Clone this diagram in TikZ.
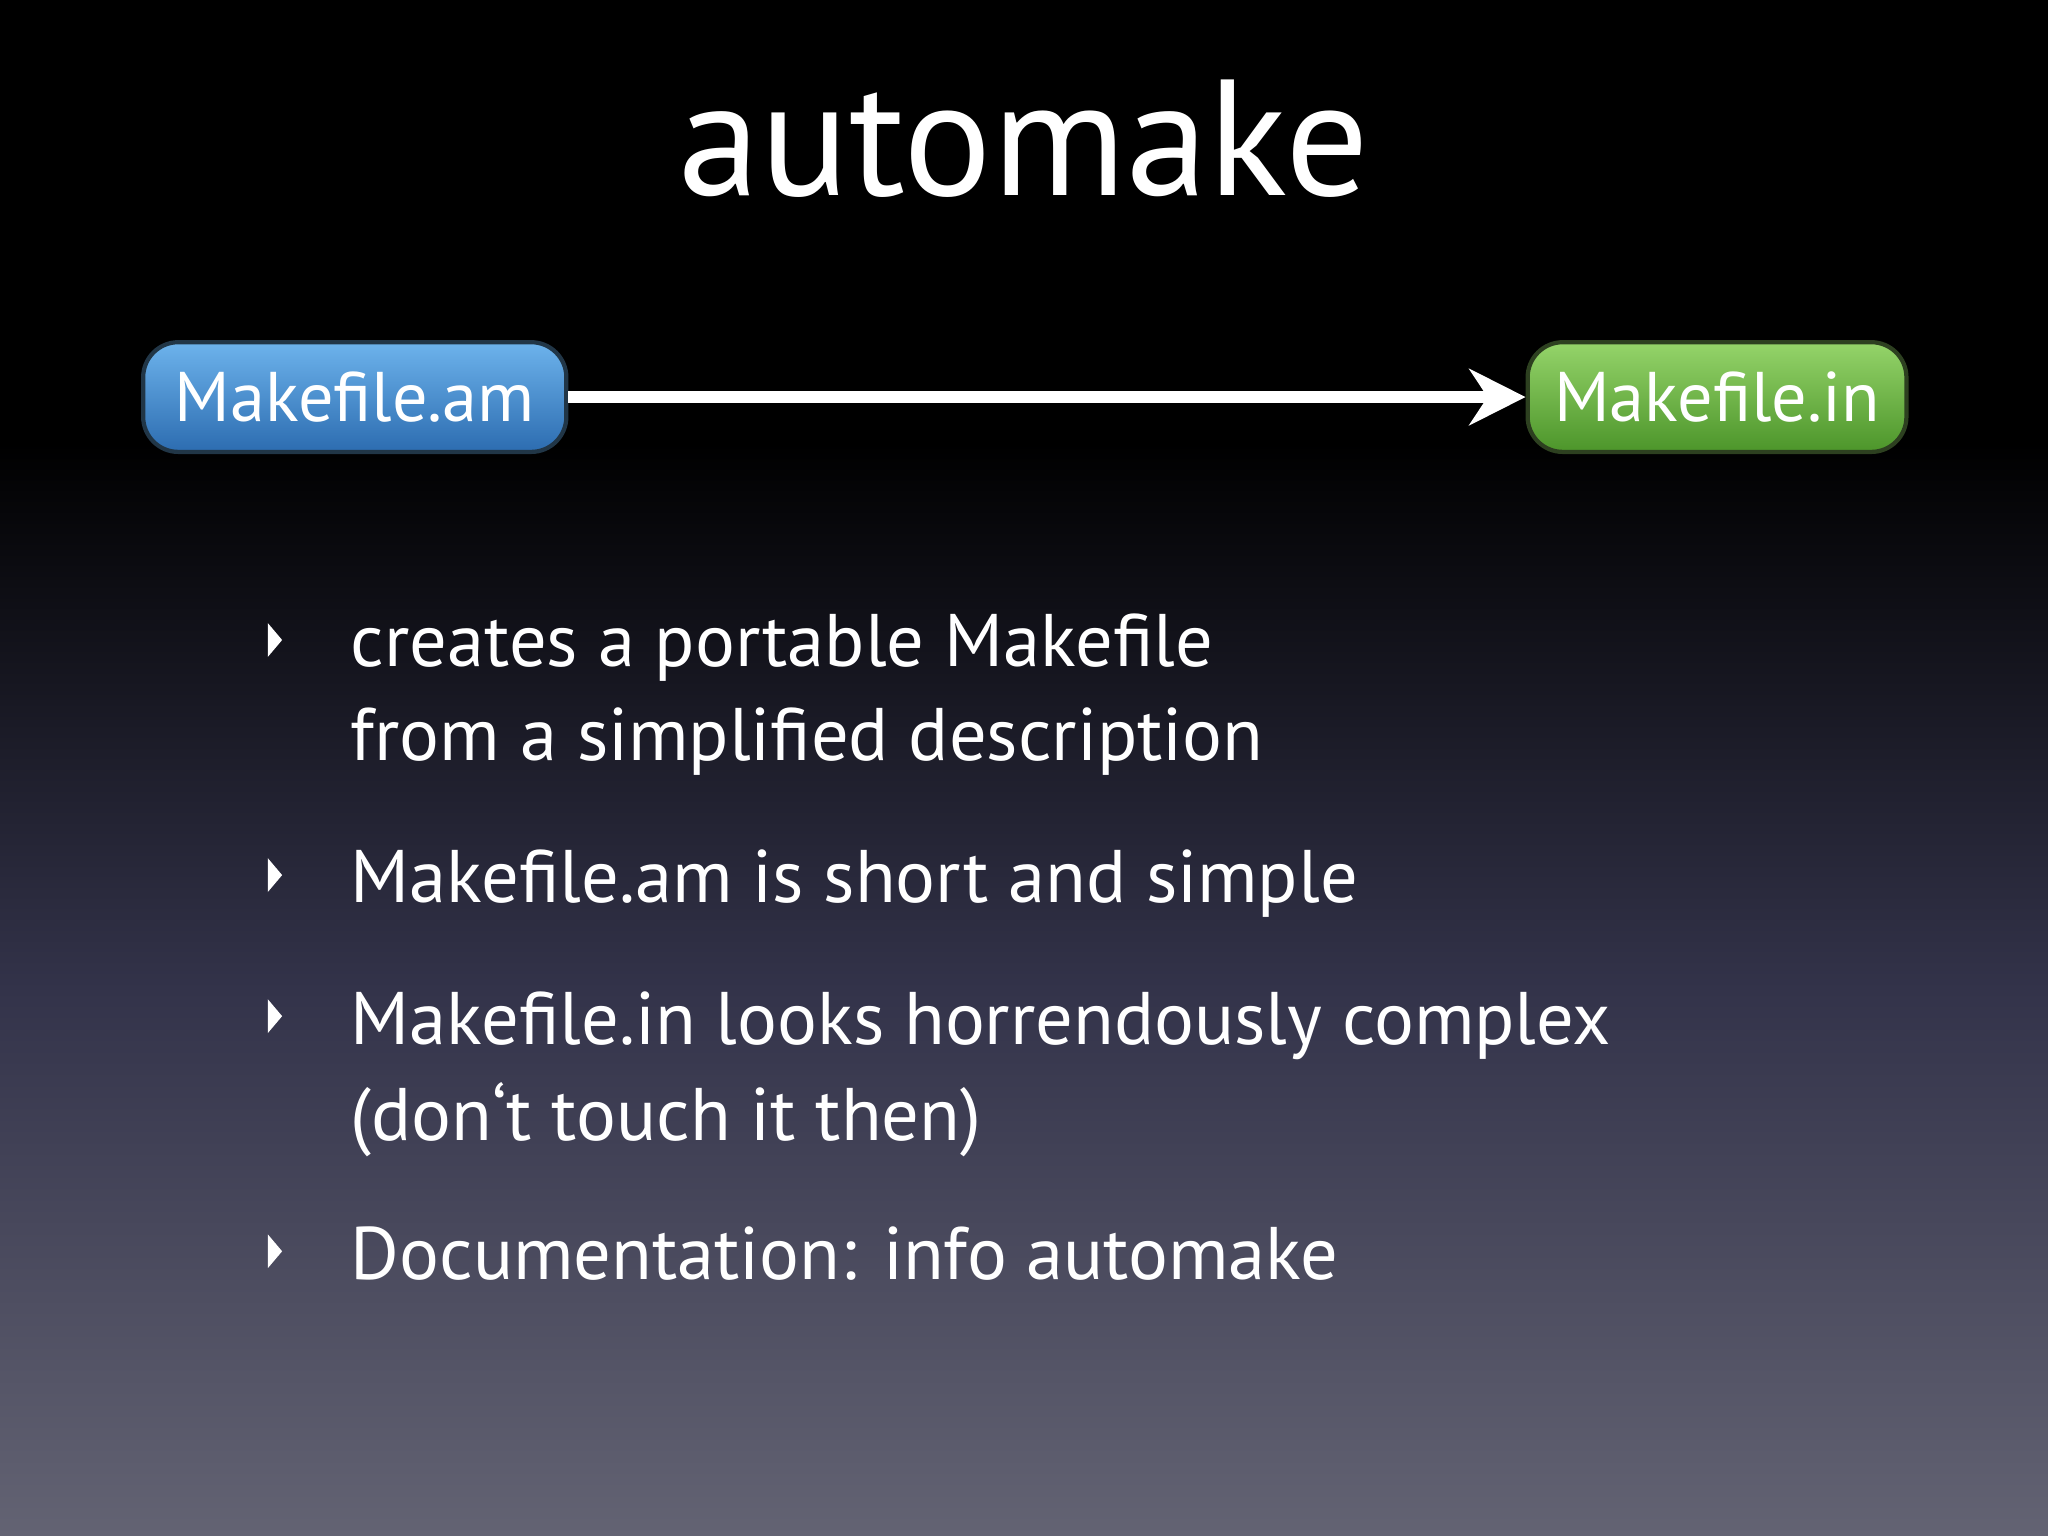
\documentclass[tikz,border=0pt]{standalone}
\usepackage{fontspec}
\setmainfont{PT Sans}
\usetikzlibrary{arrows.meta}
\definecolor{bgbot}{HTML}{636373}
\definecolor{bgmid}{HTML}{33334A}
\definecolor{btop}{HTML}{6DB3EC}
\definecolor{bbot}{HTML}{2C6CB0}
\definecolor{gtop}{HTML}{95D46A}
\definecolor{gbot}{HTML}{4C952A}
\tikzset{
  box/.style={rounded corners=10pt, draw=#1, line width=1.2pt, minimum height=84*0.013061cm, inner xsep=0pt, text=white, font=\fontsize{20}{24}\selectfont, anchor=west},
  item/.style={anchor=base west, text=white, font=\fontsize{21.2}{25}\selectfont, inner sep=0pt},
  bul/.style={fill=white}
}
\begin{document}
\begin{tikzpicture}[x=0.013061cm,y=-0.013061cm]
\useasboundingbox (0,0) rectangle (1568,1176);
\fill[black] (0,0) rectangle (1568,340);
\shade[top color=black, bottom color=bgbot, middle color=bgmid] (0,339) rectangle (1568,1176);
\node[text=white, font=\fontsize{47}{52}\selectfont, anchor=base] (title) at (784,150) {automake};
\node[box=btop!30!black, top color=btop, bottom color=bbot, minimum width=324*0.013061cm] (am) at (108,304) {Makefile.am};
\node[box=gtop!30!black, top color=gtop, bottom color=gbot, minimum width=290*0.013061cm] (in) at (1168,304) {Makefile.in};
\draw[white, line width=3.2pt, -{Stealth[length=16pt,width=16pt]}] (am.east) -- (in.west);
\foreach \y in {490,670,778,958}{\fill[bul] (205,\y-13) -- (216,\y) -- (205,\y+13) -- cycle;}
\node[item] (t1) at (268,510) {creates a portable Makefile};
\node[item] (t2) at (268,582) {from a simplified description};
\node[item] (t3) at (268,691) {Makefile.am is short and simple};
\node[item] (t4) at (268,800) {Makefile.in looks horrendously complex};
\node[item] (t5) at (268,873) {(don‘t touch it then)};
\node[item] (t6) at (268,980) {Documentation: info automake};
\end{tikzpicture}
\end{document}
